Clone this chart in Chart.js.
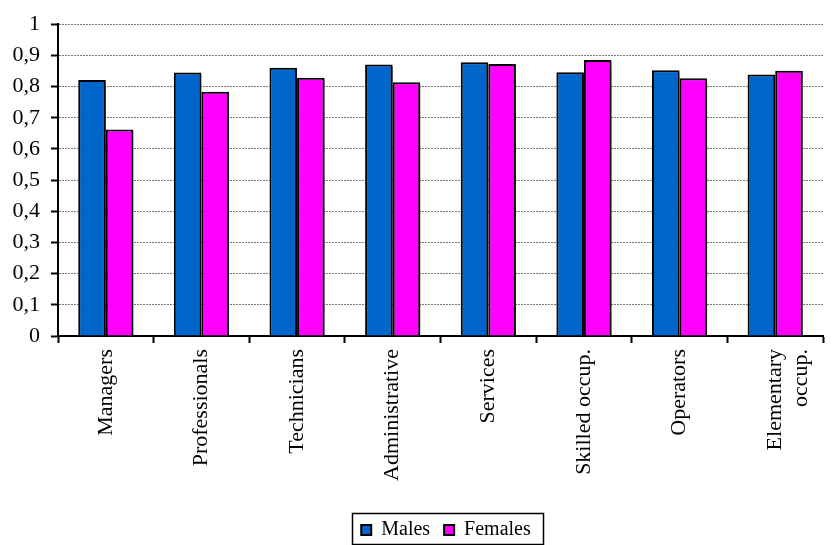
<!DOCTYPE html>
<html>
<head>
<meta charset="utf-8">
<script src="https://cdn.jsdelivr.net/npm/chart.js@4/dist/chart.umd.min.js"></script>
<style>
  html, body { margin: 0; padding: 0; background: #fff; }
  #wrap { width: 834px; height: 545px; }
</style>
</head>
<body>
<div id="wrap"><canvas id="occChart"></canvas></div>
<script>
// Occupation groups (x axis)
const occupations = ["Managers", "Professionals", "Technicians", "Administrative", "Services", "Skilled occup.", "Operators", ["Elementary", "occup."]];

// Series values
const malesValues = [0.821, 0.845, 0.860, 0.871, 0.878, 0.846, 0.852, 0.839];
const femalesValues = [0.662, 0.783, 0.828, 0.814, 0.872, 0.885, 0.827, 0.851];

// Y axis ticks
const yTicks = [0, 0.1, 0.2, 0.3, 0.4, 0.5, 0.6, 0.7, 0.8, 0.9, 1];

const serif = "'Liberation Serif', 'Times New Roman', serif";

// Soft grey shadow behind the bars, like the original spreadsheet chart
const barShadow = {
  id: "barShadow",
  beforeDatasetsDraw(chart) {
    const ctx = chart.ctx;
    ctx.save();
    ctx.shadowColor = "rgba(0,0,0,0.45)";
    ctx.shadowOffsetX = 2;
    ctx.shadowOffsetY = 2;
    ctx.shadowBlur = 1;
  },
  afterDatasetsDraw(chart) {
    chart.ctx.restore();
  }
};

// Legend sits under the plot area (not the whole canvas) and a bit lower, with a black frame
const legendFrame = {
  id: "legendFrame",
  afterLayout(chart) {
    const lg = chart.legend;
    lg.left = chart.chartArea.left;
    lg.top += 5;
    lg.bottom += 5;
  },
  afterDraw(chart) {
    const lg = chart.legend;
    if (!lg || !lg.legendHitBoxes.length) return;
    const boxes = lg.legendHitBoxes;
    const left = Math.min(...boxes.map((b) => b.left)) - 9;
    const right = Math.max(...boxes.map((b) => b.left + b.width)) + 12;
    const top = Math.min(...boxes.map((b) => b.top)) - 7;
    const bottom = Math.min(Math.max(...boxes.map((b) => b.top + b.height)) + 9, chart.height - 1);
    const ctx = chart.ctx;
    ctx.save();
    ctx.strokeStyle = "#000";
    ctx.lineWidth = 1.5;
    ctx.strokeRect(Math.round(left) + 0.5, Math.round(top) + 0.5, Math.round(right - left), Math.round(bottom - top));
    ctx.restore();
  }
};

const ctx = document.getElementById("occChart").getContext("2d");
new Chart(ctx, {
  type: "bar",
  data: {
    labels: occupations,
    datasets: [
      {
        label: "Males",
        data: malesValues,
        backgroundColor: "#0066CC",
        borderColor: "#000",
        borderWidth: 2,
        borderSkipped: "bottom"
      },
      {
        label: "Females",
        data: femalesValues,
        backgroundColor: "#FF00FF",
        borderColor: "#000",
        borderWidth: 2,
        borderSkipped: "bottom"
      }
    ]
  },
  options: {
    responsive: true,
    maintainAspectRatio: false,
    animation: false,
    datasets: {
      bar: { categoryPercentage: 0.577, barPercentage: 1 }
    },
    layout: { padding: { top: 20, right: 0, left: 0, bottom: 0 } },
    plugins: {
      tooltip: { enabled: false },
      legend: {
        position: "bottom",
        labels: {
          color: "#000",
          font: { family: serif, size: 20 },
          boxWidth: 10,
          boxHeight: 10,
          padding: 14
        }
      }
    },
    scales: {
      x: {
        grid: {
          display: true,
          offset: true,
          drawOnChartArea: false,
          drawTicks: true,
          tickLength: 7,
          tickColor: "#000",
          tickWidth: 2
        },
        border: { display: true, color: "#000", width: 2 },
        ticks: {
          color: "#000",
          font: { family: serif, size: 22 },
          minRotation: 90,
          maxRotation: 90,
          autoSkip: false,
          padding: 6
        },
        afterFit(scale) { scale.height = 165; }
      },
      y: {
        min: 0,
        max: 1,
        afterBuildTicks(scale) { scale.ticks = yTicks.map((v) => ({ value: v })); },
        grid: {
          color: "#7a7a7a",
          lineWidth: 1,
          drawTicks: true,
          tickLength: 7,
          tickColor: "#000",
          tickWidth: 2,
          tickBorderDash: []
        },
        border: { display: true, color: "#000", width: 2, dash: [2, 1] },
        ticks: {
          color: "#000",
          font: { family: serif, size: 22 },
          padding: 11,
          callback: (v) => String(v).replace(".", ",")
        },
        afterFit(scale) { scale.width = 58; }
      }
    }
  },
  plugins: [barShadow, legendFrame]
});
</script>
</body>
</html>
